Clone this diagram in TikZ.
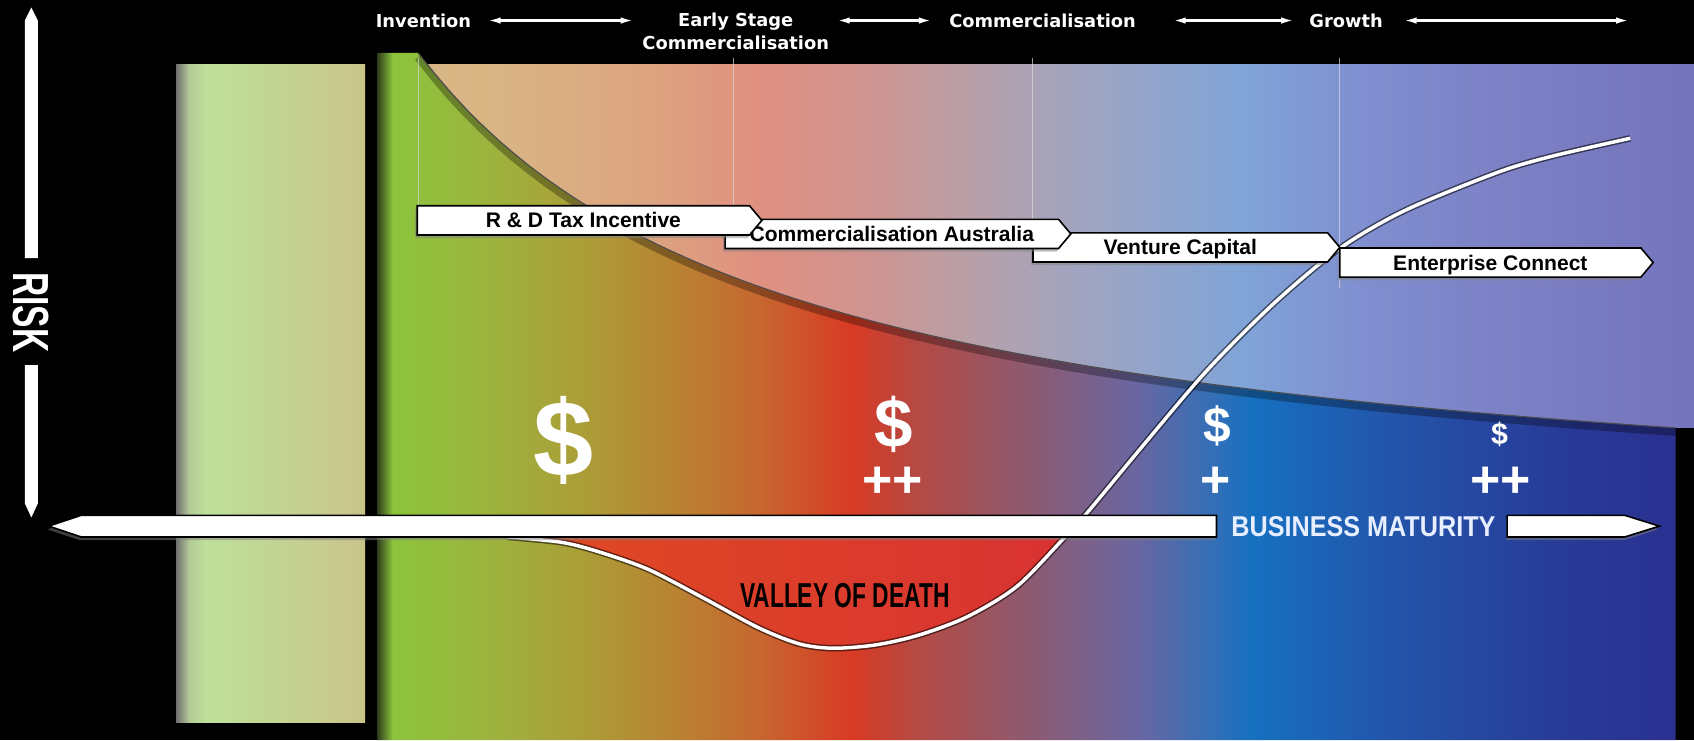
\documentclass[tikz,border=0pt]{standalone}
\usepackage{fontspec}
\setmainfont{Liberation Sans}
\newfontfamily\stagefont{DejaVu Sans}
\newfontfamily\narrowfont[FakeStretch=0.66]{Liberation Sans}
\newfontfamily\maturityfont[FakeStretch=0.88]{Liberation Sans}
\usetikzlibrary{shapes.symbols,arrows.meta,shadows}

\definecolor{lp0}{HTML}{707070}
\definecolor{lp1}{HTML}{B4CC98}
\definecolor{lp2}{HTML}{BEE09A}
\definecolor{lp3}{HTML}{CAC48A}
\definecolor{lo0}{HTML}{2C3A1C}
\definecolor{lo1}{HTML}{8CC43C}
\definecolor{lo2}{HTML}{9CB43E}
\definecolor{lo3}{HTML}{AAA038}
\definecolor{lo4}{HTML}{B88432}
\definecolor{lo5}{HTML}{C66830}
\definecolor{lo6}{HTML}{D83A24}
\definecolor{lo7}{HTML}{B44A44}
\definecolor{lo8}{HTML}{8E5A70}
\definecolor{lo9}{HTML}{6A66A0}
\definecolor{lo10}{HTML}{3C6EB4}
\definecolor{lo11}{HTML}{1670C0}
\definecolor{lo12}{HTML}{2452A8}
\definecolor{lo13}{HTML}{283A98}
\definecolor{lo14}{HTML}{2A3090}
\definecolor{up0}{HTML}{D8B888}
\definecolor{up1}{HTML}{D8B684}
\definecolor{up2}{HTML}{DCA480}
\definecolor{up3}{HTML}{E09080}
\definecolor{up4}{HTML}{D09490}
\definecolor{up5}{HTML}{B8A0A8}
\definecolor{up6}{HTML}{A0A4C0}
\definecolor{up7}{HTML}{80A4D8}
\definecolor{up8}{HTML}{8090D0}
\definecolor{up9}{HTML}{7C80C4}
\definecolor{up10}{HTML}{7474BC}
\definecolor{valleyleft}{HTML}{E04A22}
\definecolor{valleyred}{HTML}{E82622}
\definecolor{valleyright}{HTML}{D83232}
\definecolor{maturitywhite}{HTML}{E6EEFF}

\pgfdeclarehorizontalshading{leftshade}{100bp}{color(0bp)=(lp0); color(25bp)=(lp0); color(28.5bp)=(lp1); color(33bp)=(lp2); color(75bp)=(lp3); color(100bp)=(lp3)}
\pgfdeclarehorizontalshading{lowershade}{100bp}{color(0bp)=(lo0); color(25bp)=(lo0); color(25.6bp)=(lo1); color(29.2bp)=(lo2); color(32.5bp)=(lo3); color(36.3bp)=(lo4); color(39.6bp)=(lo5); color(43.3bp)=(lo6); color(45.8bp)=(lo7); color(50bp)=(lo8); color(54.2bp)=(lo9); color(56.7bp)=(lo10); color(58.7bp)=(lo11); color(64.6bp)=(lo12); color(70.8bp)=(lo13); color(75bp)=(lo14); color(100bp)=(lo14)}
\pgfdeclarehorizontalshading{uppershade}{100bp}{color(0bp)=(up0); color(25bp)=(up0); color(29.1bp)=(up1); color(35.3bp)=(up2); color(39.4bp)=(up3); color(43.5bp)=(up4); color(47.6bp)=(up5); color(51.7bp)=(up6); color(57.9bp)=(up7); color(62bp)=(up8); color(68.1bp)=(up9); color(75bp)=(up10); color(100bp)=(up10)}

\tikzset{
  stagelabel/.style={text=white,inner sep=0pt,align=center,
    font=\stagefont\bfseries\fontsize{16.5}{21}\selectfont},
  stagearrow/.style={white,line width=2.2pt,{Latex[length=12pt,width=6pt]}-{Latex[length=12pt,width=6pt]}},
  stageline/.style={white!70!gray,opacity=.7,line width=.8pt},
  schemebox/.style={shape=signal,signal to=east,signal pointer angle=100,
    draw=black,line width=1.5pt,fill=white,inner sep=0pt,minimum height=27pt,
    text height=16pt,text depth=2pt,font=\bfseries\fontsize{19.5}{20}\selectfont,
    drop shadow={shadow xshift=-2pt,shadow yshift=-3pt,opacity=.5}},
  maturitybar/.style={fill=white,draw=black,line width=1.5pt,
    drop shadow={shadow xshift=-1pt,shadow yshift=-3pt,opacity=.5}},
  riskbar/.style={fill=white},
  dollar/.style={text=white,inner sep=0pt,font=\bfseries\fontsize{#1}{#1}\selectfont},
  narrowtext/.style={inner sep=0pt,font=\narrowfont\bfseries\fontsize{#1}{#1}\selectfont}
}

\begin{document}
\begin{tikzpicture}[x=1pt,y=-1pt]
\useasboundingbox (0,0) rectangle (1568,685);
\fill[black] (0,0) rectangle (1568,685);
% panels
\shade[shading=leftshade] (163,60) rectangle (338,669);
\shade[shading=uppershade] (349,60) rectangle (1568,396);
\shade[shading=lowershade] (349,685) -- (349,49) -- plot[domain=387:1551,samples=80] (\x,{496.8-1513.46/((\x-49)/100)}) -- (1551,685) -- cycle;
\draw[black,opacity=.3,line width=7pt,yshift=-4pt] plot[domain=387:1551,samples=80] (\x,{496.8-1513.46/((\x-49)/100)});
\draw[black!70,line width=1pt] plot[domain=387:1551,samples=80] (\x,{496.8-1513.46/((\x-49)/100)});
% valley of death
\shade[left color=valleyleft,middle color=valleyred,right color=valleyright] plot[smooth] coordinates {(470,497) (520,502) (555,511) (600,527) (652,554) (702,581) (740,596) (771,600) (810,597) (850,588) (895,571) (941,543) (983,500) (990,490)} -- cycle;
\foreach \x/\y in {387/191,679/203,956/216,1240/267}
  \draw[stageline] (\x,54) -- (\x,\y);
\draw[black,opacity=.55,line width=6pt] plot[smooth] coordinates {(470,497) (520,502) (555,511) (600,527) (652,554) (702,581) (740,596) (771,600) (810,597) (850,588) (895,571) (941,543) (983,500) (1006,475) (1060,410) (1118,342) (1180,280) (1240,230) (1300,195) (1385,160) (1435,145) (1509,128)};
\draw[white,line width=3.2pt] plot[smooth] coordinates {(470,497) (520,502) (555,511) (600,527) (652,554) (702,581) (740,596) (771,600) (810,597) (850,588) (895,571) (941,543) (983,500) (1006,475) (1060,410) (1118,342) (1180,280) (1240,230) (1300,195) (1385,160) (1435,145) (1509,128)};
% programmes
\node[schemebox,minimum width=290pt] (ec) at (1379.5,243) {Enterprise Connect};
\node[schemebox,minimum width=284pt] (vc) at (1092.5,229) {Venture Capital};
\node[schemebox,minimum width=320pt] (ca) at (825.5,216.5) {Commercialisation Australia};
\node[schemebox,minimum width=319pt] (rd) at (540,204) {R \& D Tax Incentive};
% axes
\draw[maturitybar] (45,487) -- (75,477) -- (1126,477) -- (1126,497) -- (75,497) -- cycle;
\draw[maturitybar] (1395,477) -- (1504,477) -- (1536,487) -- (1504,497) -- (1395,497) -- cycle;
\node[inner sep=0pt,text=maturitywhite,font=\maturityfont\bfseries\fontsize{26.5}{27}\selectfont] (maturity) at (1262,487.5) {BUSINESS MATURITY};
\fill[riskbar] (23,239) -- (23,19) -- (29,7) -- (35,19) -- (35,239) -- cycle;
\fill[riskbar] (23,338) -- (23,466) -- (29,479) -- (35,466) -- (35,338) -- cycle;
\node[narrowtext=47,text=white,rotate=-90] (risk) at (29,289) {RISK};
% stages
\node[stagelabel] (inv) at (392,19) {Invention};
\node[stagelabel,anchor=north] (early) at (681,12) {Early Stage\\Commercialisation};
\node[stagelabel] (comm) at (965,19) {Commercialisation};
\node[stagelabel] (growth) at (1246,19) {Growth};
\coordinate (stageend) at (1508,19);
\draw[stagearrow] ([xshift=15pt]inv.east) -- ([xshift=-8pt]inv.east -| early.west);
\draw[stagearrow] ([xshift=7pt]early.east |- comm.west) -- ([xshift=-16pt]comm.west);
\draw[stagearrow] ([xshift=34pt]comm.east) -- ([xshift=-14pt]growth.west);
\draw[stagearrow] ([xshift=19pt]growth.east) -- (stageend);
% money
\node[dollar=100] (d1) at (522,408) {\$};
\node[dollar=64] (d2) at (827,393) {\$};
\node[dollar=48] (p2) at (826,446) {++};
\node[dollar=46] (d3) at (1127,394) {\$};
\node[dollar=48] (p3) at (1125,446) {+};
\node[dollar=28] (d4) at (1388,402) {\$};
\node[dollar=48] (p4) at (1389,446) {++};
\node[narrowtext=32] (valley) at (782,551) {VALLEY OF DEATH};
\end{tikzpicture}
\end{document}
